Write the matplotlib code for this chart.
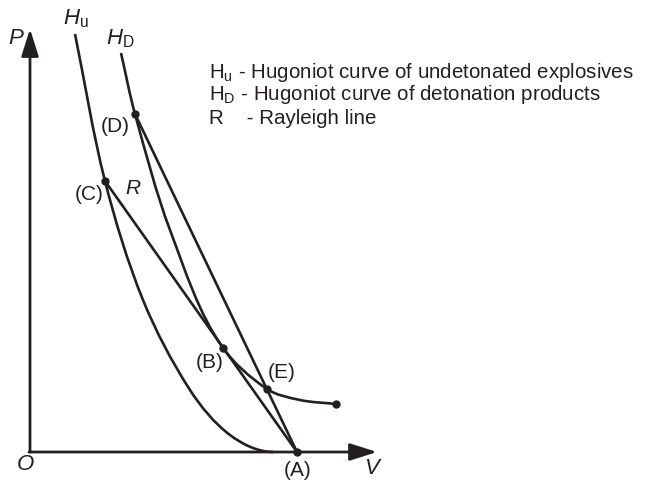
import numpy as np
import matplotlib
matplotlib.use('Agg')
import matplotlib.pyplot as plt
from matplotlib.path import Path
from matplotlib.patches import PathPatch

plt.rcParams['font.family'] = ['Liberation Sans', 'DejaVu Sans']
plt.rcParams['mathtext.fontset'] = 'custom'
plt.rcParams['mathtext.rm'] = 'Liberation Sans'
plt.rcParams['mathtext.it'] = 'Liberation Sans:italic'

INK = '#231f20'

# Hugoniot of the undetonated explosive (V, P)
hu_v = [45, 75, 113, 160, 200, 243]
hu_p = [418, 271, 152, 62, 17, 0]

# Hugoniot of the detonation products (V, P)
hd_v = [91, 105, 140, 193, 237, 270, 306]
hd_p = [399, 338, 222, 104, 63, 52, 48]

# state points
pts = {
    'A': (267, 0),
    'B': (193, 104),
    'C': (75, 271),
    'D': (105, 338),
    'E': (237, 63),
}


def smooth_path(v, p, tangents=None):
    # chord-length Catmull-Rom through the points, drawn as cubic Beziers
    P = np.column_stack([v, p]).astype(float)
    n = len(P)
    d = np.hypot(*np.diff(P, axis=0).T)
    m = np.zeros_like(P)
    m[0] = (P[1] - P[0]) / d[0]
    m[-1] = (P[-1] - P[-2]) / d[-1]
    for i in range(1, n - 1):
        m[i] = (P[i + 1] - P[i - 1]) / (d[i - 1] + d[i])
    for i, t in (tangents or {}).items():
        t = np.asarray(t, float)
        m[i] = t / np.hypot(*t) * np.hypot(*m[i])
    verts = [P[0]]
    codes = [Path.MOVETO]
    for i in range(n - 1):
        verts += [P[i] + m[i] * d[i] / 3, P[i + 1] - m[i + 1] * d[i] / 3, P[i + 1]]
        codes += [Path.CURVE4] * 3
    return Path(verts, codes)


fig = plt.figure(figsize=(6.51, 4.80), dpi=100)
ax = fig.add_axes([0, 0, 1, 1])
ax.set_xlim(-30, 621)
ax.set_ylim(-28, 452)
ax.axis('off')

# axes with arrow heads
arrow = dict(arrowstyle='-|>,head_length=1.1,head_width=0.35', mutation_scale=15,
             color=INK, lw=2.0, shrinkA=0, shrinkB=0)
ax.annotate('', xy=(0, 423), xytext=(0, 0), arrowprops=arrow)
ax.annotate('', xy=(347, 0), xytext=(-1, 0), arrowprops=arrow)

lw = 1.9
ax.add_patch(PathPatch(smooth_path(hu_v, hu_p, {len(hu_v) - 1: (1, 0)}),
                       fill=False, ec=INK, lw=lw))
ra = np.subtract(pts['A'], pts['C'])
ax.add_patch(PathPatch(smooth_path(hd_v, hd_p, {3: ra}),
                       fill=False, ec=INK, lw=lw))

# Rayleigh line C-A and line D-A
for k in ('C', 'D'):
    ax.plot([pts[k][0], pts['A'][0]], [pts[k][1], pts['A'][1]], color=INK, lw=lw)

dots = [pts[k] for k in 'ABCDE'] + [(hd_v[-1], hd_p[-1])]
ax.plot([d[0] for d in dots], [d[1] for d in dots], 'o', color=INK, ms=5, zorder=5)

# labels
fs = 15
ax.text(-14, 414, 'P', style='italic', fontsize=16, ha='center', va='center', color=INK)
ax.text(-5, -13, 'O', style='italic', fontsize=16, ha='center', va='center', color=INK)
ax.text(342, -16, 'V', style='italic', fontsize=16, ha='center', va='center', color=INK)
ax.text(46, 433, r'$H_\mathrm{u}$', fontsize=16, ha='center', va='center', color=INK)
ax.text(90, 413, r'$H_\mathrm{D}$', fontsize=16, ha='center', va='center', color=INK)
ax.text(103, 264, 'R', style='italic', fontsize=fs, ha='center', va='center', color=INK)
for name, xy in [('A', (268, -18)), ('B', (180, 89)), ('E', (252, 79)),
                 ('C', (59, 257)), ('D', (85, 325))]:
    ax.text(*xy, f'({name})', fontsize=fs, ha='center', va='center', color=INK)

legend = [
    (r'$\mathrm{H_u}$', ' - Hugoniot curve of undetonated explosives'),
    (r'$\mathrm{H_D}$', ' - Hugoniot curve of detonation products'),
    ('R', '    - Rayleigh line'),
]
for i, (sym, desc) in enumerate(legend):
    ax.text(179, 380 - 23 * i, sym + desc, fontsize=14.8, ha='left', va='center', color=INK)

fig.savefig('out.png', dpi=100)
